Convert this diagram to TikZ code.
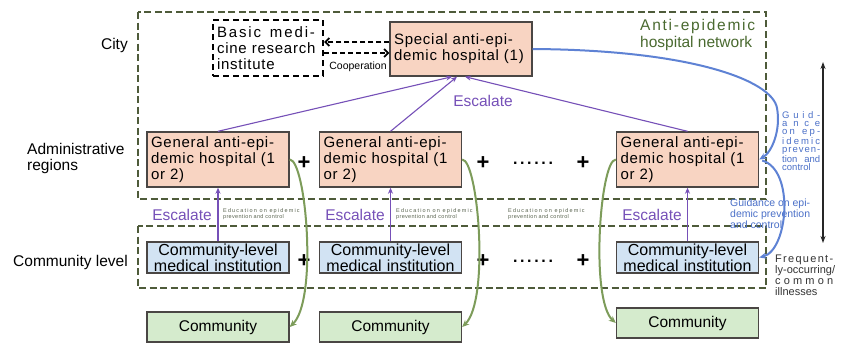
\documentclass[tikz,border=0pt]{standalone}
\usepackage{fontspec}
\setmainfont{Liberation Sans}
\usetikzlibrary{arrows.meta,calc}
\definecolor{salm}{HTML}{F8D4C2}
\definecolor{cblue}{HTML}{D2E3F3}
\definecolor{cgreen}{HTML}{D5EBCD}
\definecolor{bord}{HTML}{4A4644}
\definecolor{regc}{HTML}{4E5B3A}
\definecolor{purp}{HTML}{7650B8}
\definecolor{gblue}{HTML}{4B70C8}
\definecolor{lblue}{HTML}{5E82D4}
\definecolor{olive}{HTML}{7D9C5A}
\definecolor{netgreen}{HTML}{4A6A30}
\definecolor{edu}{HTML}{5A6450}
\newcommand{\spr}[2]{\makebox[#1][s]{#2}}
\newcommand{\hospfont}{\fontsize{15}{16}\selectfont\addfontfeature{LetterSpace=5}}
\newcommand{\lblfont}{\fontsize{15.5}{16}\selectfont}
\begin{document}
\begin{tikzpicture}[x=1pt,y=-1pt,
  region/.style={draw=regc, line width=2.2pt, dash pattern=on 7pt off 3.5pt},
  boxbase/.style={draw=bord, line width=1.4pt, inner ysep=0pt, inner xsep=4pt, minimum width=142pt},
  hosp/.style={boxbase, fill=salm, minimum height=55pt, text width=134pt, align=left, font=\hospfont},
  clbox/.style={boxbase, fill=cblue, minimum height=31pt, text width=136pt, inner xsep=3pt, align=center, font=\fontsize{16}{10.5}\selectfont},
  cmbox/.style={boxbase, fill=cgreen, minimum height=30pt, font=\fontsize{15.5}{16}\selectfont},
  plus/.style={inner sep=0pt, font=\fontsize{22}{22}\selectfont\bfseries},
  dots/.style={inner sep=0pt, font=\fontsize{16}{16}\selectfont\bfseries},
  esc/.style={inner sep=0pt, text=purp, font=\fontsize{15.5}{16}\selectfont},
  edulbl/.style={anchor=west, inner sep=0pt, align=left, text=edu, font=\fontsize{5.5}{6}\selectfont},
  parrow/.style={draw=purp, line width=1.1pt, -{Stealth[length=6pt,width=5pt]}},
  gcurve/.style={draw=olive, line width=2pt, -{Stealth[length=7pt,width=6pt]}},
  bcurve/.style={draw=lblue, line width=2pt, -{Stealth[length=7pt,width=6pt]}},
  coopar/.style={draw=black, line width=1.8pt, dash pattern=on 5pt off 3pt, -{Straight Barb[length=4pt,width=8pt]}}
]
\fill[white] (0,0) rectangle (850,346);
\useasboundingbox (0,0) rectangle (850,346);

% regions
\draw[region] (138,12) rectangle (766,199);
\draw[region] (138,226) rectangle (766,288);

% row labels
\node[anchor=east, inner sep=0pt, font=\lblfont] (lcity) at (128,45) {City};
\node[anchor=west, inner sep=0pt, align=left, font=\lblfont] (ladm) at (27,158) {Administrative\\regions};
\node[anchor=east, inner sep=0pt, font=\lblfont] (lcom) at (128,262) {Community level};

% city level
\node[draw=black, line width=2pt, dash pattern=on 6pt off 4pt, minimum width=110pt, minimum height=56pt, text width=102pt, inner xsep=4pt, inner ysep=0pt, align=left, font=\hospfont] (bm) at (268,48)
  {\spr{98pt}{B\hfil a\hfil s\hfil i\hfil c\hfil\ \hfil m\hfil e\hfil d\hfil i\hfil -}\\cine research\\institute};
\node[hosp, minimum height=54pt] (sp) at (461,49) {Special anti-epi-\\demic hospital (1)};
\node[inner sep=0pt, font=\fontsize{10.5}{12}\selectfont] (coop) at (358,67) {Cooperation};
\node[anchor=north west, inner sep=0pt, text=netgreen, align=left, font=\fontsize{15.5}{17}\selectfont] (net) at (640,19)
  {\spr{115pt}{A\hfil n\hfil t\hfil i\hfil -\hfil e\hfil p\hfil i\hfil d\hfil e\hfil m\hfil i\hfil c}\\hospital network};

% administrative level
\node[hosp] (gh1) at (218,159.5) {General anti-epi-\\demic hospital (1\\or 2)};
\node[hosp] (gh2) at (390.5,159.5) {General anti-epi-\\demic hospital (1\\or 2)};
\node[hosp] (gh3) at (687.5,159.5) {General anti-epi-\\demic hospital (1\\or 2)};
\node[plus] (pa1) at (304,163) {+};
\node[plus] (pa2) at (483,163) {+};
\node[dots] (da) at (533,163) {\spr{40pt}{.\hfil.\hfil.\hfil.\hfil.\hfil.}};
\node[plus] (pa3) at (583,163) {+};

% community level
\node[clbox] (cl1) at (218,257.5) {Community-level\\medical institution};
\node[clbox] (cl2) at (390.5,257.5) {Community-level\\medical institution};
\node[clbox] (cl3) at (687.5,257.5) {Community-level\\medical institution};
\node[plus] (pc1) at (304,261) {+};
\node[plus] (pc2) at (483,261) {+};
\node[dots] (dc) at (533,261) {\spr{40pt}{.\hfil.\hfil.\hfil.\hfil.\hfil.}};
\node[plus] (pc3) at (583,261) {+};

% communities
\node[cmbox] (cm1) at (218,327) {Community};
\node[cmbox] (cm2) at (390.5,327) {Community};
\node[cmbox] (cm3) at (687.5,323) {Community};

% labels
\node[esc] (e0) at (483,101) {Escalate};
\node[esc] (e1) at (182,215) {Escalate};
\node[esc] (e2) at (355,215) {Escalate};
\node[esc] (e3) at (652,215) {Escalate};
\node[edulbl] (ed1) at (223,214) {{\addfontfeature{LetterSpace=21}Education on epidemic}\\{\addfontfeature{LetterSpace=6}prevention and control}};
\node[edulbl] (ed2) at (396,214) {{\addfontfeature{LetterSpace=21}Education on epidemic}\\{\addfontfeature{LetterSpace=6}prevention and control}};
\node[edulbl] (ed3) at (508,214) {{\addfontfeature{LetterSpace=21}Education on epidemic}\\{\addfontfeature{LetterSpace=6}prevention and control}};
\node[anchor=north west, inner sep=0pt, text=gblue, align=left, font=\fontsize{9.5}{8.1}\selectfont] (gd1) at (782,111)
  {\spr{38pt}{G\hfil u\hfil i\hfil d\hfil -}\\\spr{38pt}{a\hfil n\hfil c\hfil e}\\\spr{38pt}{o\hfil n\hfil\ \hfil e\hfil p\hfil -}\\\spr{38pt}{i\hfil d\hfil e\hfil m\hfil i\hfil c}\\\spr{38pt}{p\hfil r\hfil e\hfil v\hfil e\hfil n\hfil -}\\\spr{38pt}{tion and}\\control};
\node[anchor=north west, inner sep=0pt, text=gblue, align=left, font=\fontsize{10.5}{8}\selectfont] (gd2) at (730,199)
  {Guidance on epi-\\demic prevention\\and control};
\node[anchor=north west, inner sep=0pt, text=black!80, align=left, font=\fontsize{11}{10.8}\selectfont] (fr) at (775,255)
  {\spr{58pt}{F\hfil r\hfil e\hfil q\hfil u\hfil e\hfil n\hfil t\hfil -}\\ly-occurring/\\\spr{58pt}{c\hfil o\hfil m\hfil m\hfil o\hfil n}\\illnesses};

% connectors
\draw[coopar] ($(sp.west)+(0,-7)$) -- ($(bm.east)+(0,-6)$);
\draw[coopar] ($(bm.east)+(0,5)$) -- ($(sp.west)+(0,4)$);
\draw[parrow] (gh1.north) -- ($(sp.south)+(-9,0)$);
\draw[parrow] (gh2.north) -- ($(sp.south)+(-4,0)$);
\draw[parrow] (gh3.north) -- ($(sp.south)+(4,0)$);
\draw[parrow] (cl1.north) -- (gh1.south);
\draw[parrow] (cl2.north) -- (gh2.south);
\draw[parrow] (cl3.north) -- (gh3.south);
\draw[gcurve] (gh1.east) .. controls (306,160) and (318,300) .. (cm1.east);
\draw[gcurve] (gh2.east) .. controls (478,160) and (490,300) .. (cm2.east);
\draw[gcurve] (gh3.west) .. controls (600,160) and (590,300) .. (cm3.west);
\draw[bcurve] (sp.east) .. controls (690,50) and (772,80) .. (777,108) .. controls (781,130) and (772,152) .. (gh3.east);
\draw[bcurve] ($(gh3.east)+(3,1)$) .. controls (795,170) and (788,250) .. (cl3.east);
\coordinate (va1) at (823,62);
\coordinate (va2) at (823,243);
\draw[draw=black!85, line width=1.3pt, {Stealth[length=7pt,width=5pt]}-{Stealth[length=7pt,width=5pt]}] (va1) -- (va2);
\end{tikzpicture}
\end{document}
